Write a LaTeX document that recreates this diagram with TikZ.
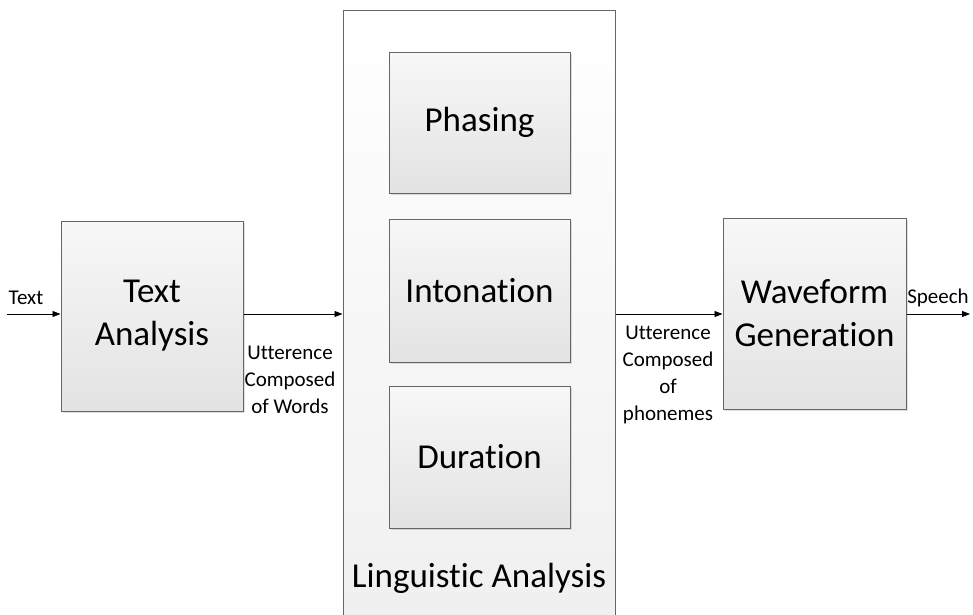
\documentclass[tikz,border=0pt]{standalone}
\usepackage{fontspec}
\setmainfont{Carlito}[Ligatures=CommonOff]
\usetikzlibrary{positioning, arrows.meta, shadows}

\begin{document}
\begin{tikzpicture}[x=1pt,y=-1pt,
  blk/.style={draw=black!60, line width=1pt, top color=gray!6, bottom color=gray!22, drop shadow={shadow xshift=2pt, shadow yshift=-2pt, opacity=.25, fill=gray}, minimum width=182pt, align=center, font=\fontsize{35}{43}\selectfont},
  outer/.style={draw=black!60, line width=1pt, top color=white, bottom color=gray!12},
  lbl/.style={align=center, inner sep=0pt, font=\fontsize{21}{27}\selectfont},
  flow/.style={-{Triangle[length=8pt,width=6pt]}, line width=0.8pt}]
  \useasboundingbox (0,0) rectangle (973,614);

  \node[outer, minimum width=272pt, minimum height=614pt] (la) at (479,317) {};
  \node[font=\fontsize{35}{43}\selectfont] (lat) at (479,578) {Linguistic Analysis};

  \node[blk, minimum height=190pt] (ta) at (152,316) {Text\\Analysis};
  \node[blk, minimum width=181pt, minimum height=141pt] (ph) at (479.5,122.5) {Phasing};
  \node[blk, minimum width=181pt, minimum height=143pt] (it) at (479.5,290.5) {Intonation};
  \node[blk, minimum width=181pt, minimum height=142pt] (du) at (479.5,457) {Duration};
  \node[blk, minimum width=183pt, minimum height=191pt] (wg) at (814.5,313.5) {Waveform\\Generation};

  \coordinate (in) at (7,314);
  \coordinate (out) at (970,314);
  \draw[flow] (in) -- (in -| ta.west);
  \draw[flow] (in -| ta.east) -- (in -| la.west);
  \draw[flow] (in -| la.east) -- (in -| wg.west);
  \draw[flow] (in -| wg.east) -- (out);

  \node[lbl] (txt) at (26,298) {Text};
  \node[lbl] (sp) at (938,298) {Speech};
  \node[lbl, anchor=north] (uw) at (290,346) {Utterence\\Composed\\of Words};
  \node[lbl, anchor=north] (up) at (668,326) {Utterence\\Composed\\of\\phonemes};
\end{tikzpicture}
\end{document}
